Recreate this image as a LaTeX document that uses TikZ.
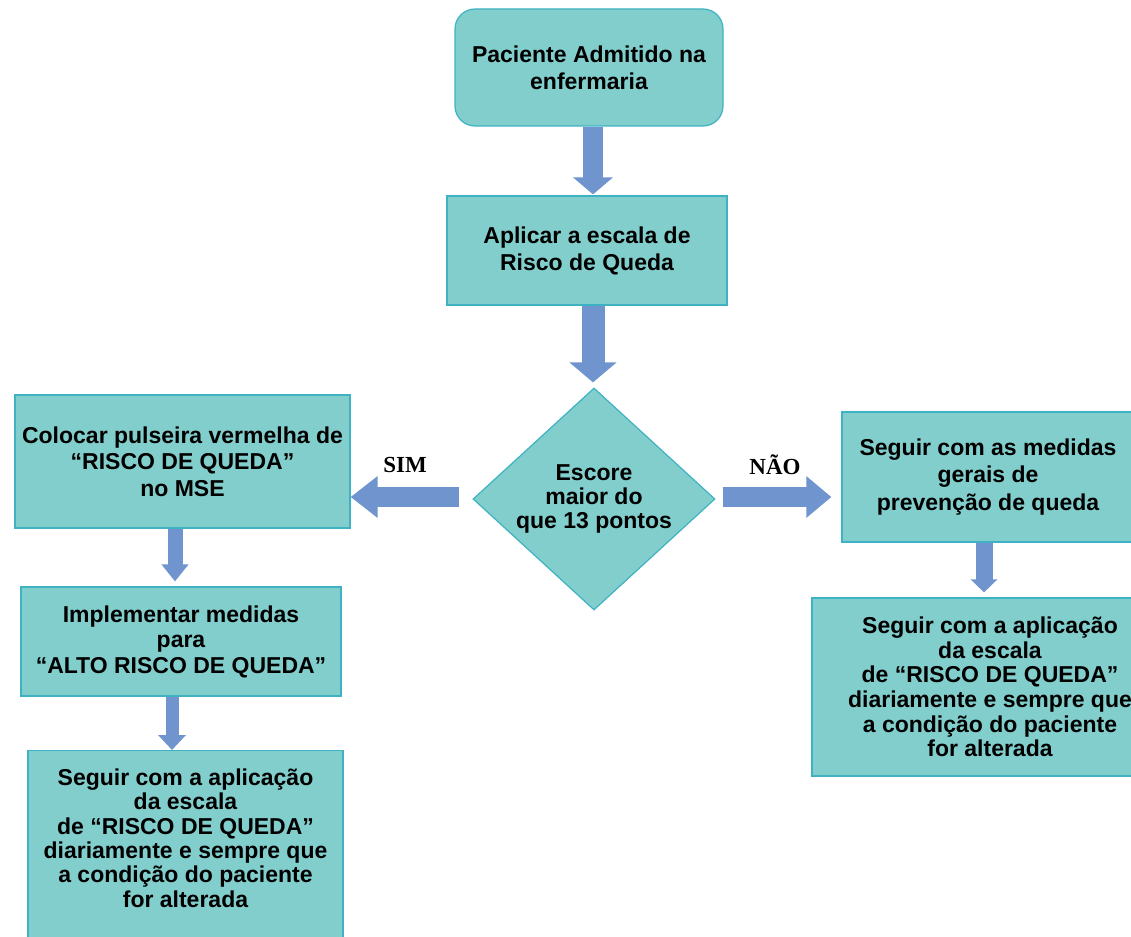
\documentclass[tikz,border=0pt]{standalone}
\usepackage{fontspec}
\setmainfont{Liberation Sans}
\newfontfamily\serifbf{Liberation Serif}
\usetikzlibrary{arrows.meta,shapes.geometric,calc}
\definecolor{boxfill}{RGB}{129,206,204}
\definecolor{boxline}{RGB}{62,178,194}
\definecolor{arrowblue}{RGB}{111,148,206}
\newcommand\boxfont[1]{\bfseries\fontsize{23}{#1}\selectfont}
\begin{document}
\begin{tikzpicture}[x=1pt,y=-1pt,
  box/.style={draw=boxline, fill=boxfill, line width=1.2pt, inner sep=0pt, align=center},
  decision/.style={diamond, draw=boxline, fill=boxfill, line width=1.2pt, inner sep=0pt, align=center, aspect=1.09, minimum width=242pt, minimum height=222pt},
  blockarrow/.style n args={3}{draw=arrowblue, line width=#1, -{Triangle[length=#3, width=#2]}},
  answer/.style={font=\serifbf\bfseries\fontsize{23}{26}\selectfont, inner sep=0pt}
]
\useasboundingbox (0,0) rectangle (1131,936);
\fill[white] (0,0) rectangle (1131,936);

% nodes
\node[box, rounded corners=20pt, minimum width=268pt, minimum height=117pt, font=\boxfont{27}] (top) at (589,67.5)
  {Paciente Admitido na\\enfermaria};
\node[box, minimum width=280pt, minimum height=109pt, font=\boxfont{27}] (b2) at (587,250.5)
  {Aplicar a escala de\\Risco de Queda};
\node[decision, font=\boxfont{24}] (dia) at (594,499)
  {Escore\\maior do\\que 13 pontos};
\node[box, minimum width=335pt, minimum height=133pt, font=\boxfont{26.5}] (l1) at (182.5,461.5)
  {Colocar pulseira vermelha de\\“RISCO DE QUEDA”\\no MSE};
\node[box, minimum width=320pt, minimum height=109pt, font=\boxfont{25.5}] (l2) at (181,641.5)
  {Implementar medidas\\para\\“ALTO RISCO DE QUEDA”};
\node[box, minimum width=315pt, minimum height=200pt, anchor=north] (l3) at (185.5,750) {};
\node[inner sep=0pt, align=center, font=\boxfont{24.4}] (l3t) at ($(l3.north)+(0,88)$)
  {Seguir com a aplicação\\da escala\\de “RISCO DE QUEDA”\\diariamente e sempre que\\a condição do paciente\\for alterada};
\node[box, minimum width=292pt, minimum height=130pt, font=\boxfont{27.5}] (r1) at (988,477)
  {Seguir com as medidas\\gerais de\\prevenção de queda};
\node[box, minimum width=356pt, minimum height=178pt, font=\boxfont{24.6}] (r2) at (990,687)
  {Seguir com a aplicação\\da escala\\de “RISCO DE QUEDA”\\diariamente e sempre que\\a condição do paciente\\for alterada};

\node[answer] (sim) at (405,465) {SIM};
\node[answer] (nao) at (775,465) {NÃO};

% connectors
\coordinate (cx) at (593,0);
\draw[blockarrow={20pt}{39pt}{17pt}] (top.south -| cx) -- ($(b2.north -| cx)+(0,-1)$);
\draw[blockarrow={23pt}{46pt}{20pt}] (b2.south -| cx) -- ($(dia.north -| cx)+(0,-5)$);
\coordinate (simS) at ($(dia.west)+(-13,-2)$);
\draw[blockarrow={20pt}{40pt}{27pt}] (simS) -- (simS -| l1.east);
\coordinate (naoS) at ($(dia.east)+(7,-2)$);
\draw[blockarrow={20pt}{40pt}{25pt}] (naoS) -- ($(naoS -| r1.west)+(-10,0)$);
\coordinate (lx1) at (175,0);
\draw[blockarrow={15pt}{26pt}{17pt}] (l1.south -| lx1) -- ($(l2.north -| lx1)+(0,-5)$);
\coordinate (lx2) at (172,0);
\draw[blockarrow={13pt}{27pt}{15pt}] (l2.south -| lx2) -- (l3.north -| lx2);
\coordinate (rx) at (984,0);
\draw[blockarrow={17pt}{26pt}{13pt}] (r1.south -| rx) -- ($(r2.north -| rx)+(0,-5)$);
\end{tikzpicture}
\end{document}
